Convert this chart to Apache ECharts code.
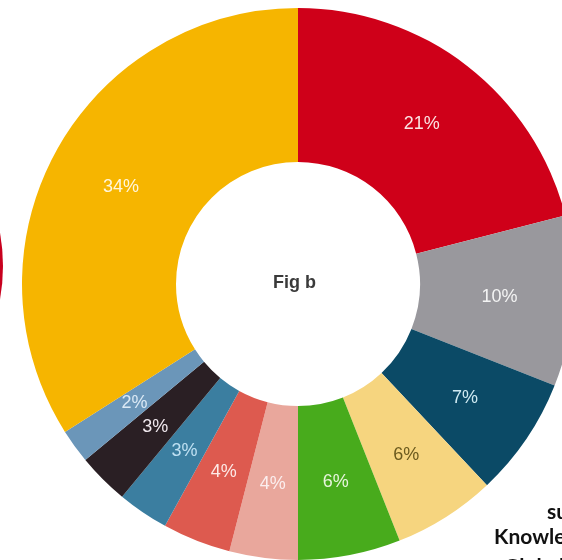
<!DOCTYPE html>
<html>
  <head>
    <meta charset="UTF-8" />
    <script src="https://cdn.jsdelivr.net/npm/echarts@6/dist/echarts.min.js"></script>
    <style>
      html, body { margin: 0; padding: 0; background: #fff; }
    </style>
  </head>
  <body>
    <div id="main"></div>
    <script>
      const width = 562;
      const height = 560;
      const main = document.getElementById('main');
      main.style.width = `${width}px`;
      main.style.height = `${height}px`;

      // slices, clockwise from 12 o'clock
      const shares = [21, 10, 7, 6, 6, 4, 4, 3, 3, 2, 34];
      const colors = [
        '#cf0019', '#99989d', '#0b4a66', '#f6d57f', '#48ab1c', '#e9a79c',
        '#dd5a4f', '#3b7ea0', '#2a1f24', '#6b96b9', '#f6b500',
      ];
      const labelColors = [
        '#fbe3e3', '#f4f4f4', '#cfeaf2', '#6b5a1e', '#e7f5dc', '#fbeeee',
        '#fde9e6', '#bfe0f2', '#f0e8ee', '#dbe9f5', '#fff6dc',
      ];
      // cut-off neighbour chart on the left edge
      const neighbour = [1];

      const data = shares.map((v, i) => ({
        value: v,
        name: v + '%',
        itemStyle: { color: colors[i] },
        label: { color: labelColors[i] },
      }));

      const myChart = echarts.init(main, null, { renderer: 'canvas' });
      myChart.setOption({
        animation: false,
        series: [
          {
            type: 'pie',
            center: [298, 284],
            radius: [122, 276],
            startAngle: 90,
            clockwise: true,
            silent: true,
            data,
            label: {
              show: true,
              position: 'inside',
              formatter: '{b}',
              fontFamily: 'Liberation Sans, Arial, sans-serif',
              fontSize: 18,
            },
            labelLine: { show: false },
          },
          {
            type: 'pie',
            center: [-185, 266],
            radius: [0, 188],
            silent: true,
            data: neighbour.map((v) => ({ value: v, itemStyle: { color: '#c8001e' } })),
            label: { show: false },
          },
        ],
        graphic: [
          {
            type: 'text',
            left: 273,
            top: 274,
            style: {
              text: 'Fig b',
              font: 'bold 18px "Liberation Sans", Arial, sans-serif',
              fill: '#3a3a3a',
            },
          },
          {
            type: 'text',
            left: 547,
            top: 502,
            style: {
              text: 'su',
              font: 'bold 21px Lato, "Open Sans", sans-serif',
              fill: '#111',
            },
          },
          {
            type: 'text',
            left: 494,
            top: 527,
            style: {
              text: 'Knowledge',
              font: 'bold 21px Lato, "Open Sans", sans-serif',
              fill: '#111',
            },
          },
          {
            type: 'text',
            left: 504,
            top: 557,
            style: {
              text: 'Global',
              font: 'bold 21px Lato, "Open Sans", sans-serif',
              fill: '#111',
            },
          },
        ],
      });
    </script>
  </body>
</html>
